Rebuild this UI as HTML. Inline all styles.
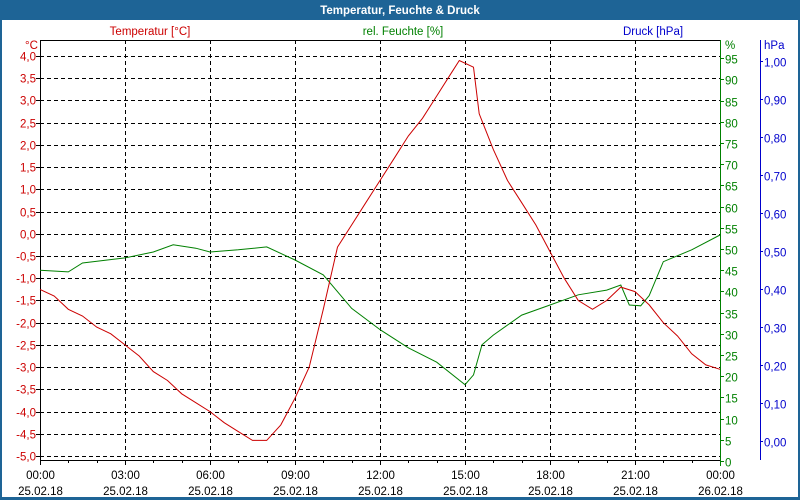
<!DOCTYPE html>
<html><head><meta charset="utf-8"><style>
html,body{margin:0;padding:0;background:#fff}
#wrap{position:relative;width:800px;height:500px;overflow:hidden;font-family:"Liberation Sans",sans-serif}
svg text{font-family:"Liberation Sans",sans-serif;font-size:11.5px}
</style></head><body>
<div id="wrap">
<svg id="chart" width="800" height="500">
<rect x="0" y="0" width="800" height="500" fill="#1e6496"/>
<rect x="2" y="20" width="796" height="477" fill="#fff"/>
<text x="400" y="14" fill="#fff" font-weight="bold" text-anchor="middle">Temperatur, Feuchte &amp; Druck</text>
<text x="150" y="35" fill="#cc0000" text-anchor="middle">Temperatur [°C]</text>
<text x="403" y="35" fill="#008000" text-anchor="middle">rel. Feuchte [%]</text>
<text x="653" y="35" fill="#0000cc" text-anchor="middle">Druck [hPa]</text>
<text x="25" y="49" fill="#cc0000">°C</text>
<text x="725" y="49" fill="#008000">%</text>
<text x="764" y="49" fill="#0000cc">hPa</text>
<g id="grid"></g><g id="axes"></g><g id="series"></g>
</svg></div>
<script>
const hours=[0,0.5,1,1.5,2,2.5,3,3.5,4,4.5,5,5.5,6,6.5,7,7.5,8,8.5,9,9.5,10,10.5,11,11.5,12,12.5,13,13.5,14,14.5,14.8,15.3,15.5,16,16.5,17,17.5,18,18.5,19,19.5,20,20.5,21,21.5,22,22.5,23,23.5,24];
const temps=[-1.25,-1.4,-1.7,-1.85,-2.1,-2.25,-2.5,-2.75,-3.1,-3.3,-3.6,-3.8,-4.0,-4.25,-4.45,-4.65,-4.65,-4.3,-3.7,-3.0,-1.7,-0.3,0.2,0.7,1.2,1.7,2.2,2.6,3.1,3.6,3.9,3.75,2.7,1.9,1.2,0.7,0.2,-0.4,-1.0,-1.5,-1.7,-1.5,-1.2,-1.3,-1.6,-2.0,-2.3,-2.7,-2.95,-3.05];
const humHours=[0,1,1.5,3,4,4.7,5.5,6,7,8,9,10,11,12,13,14,15,15.3,15.6,16,17,18,19,20,20.5,20.8,21.2,21.5,22,23,24];
const humidity=[45,44.6,46.7,47.9,49.3,51,50.2,49.3,49.8,50.5,47.4,43.9,36,31,26.7,23.3,18,20.3,27.4,29.7,34.4,36.8,39.2,40.3,41.5,36.8,36.6,39,47,49.8,53.3];
const tempTicks=[4,3.5,3,2.5,2,1.5,1,0.5,0,-0.5,-1,-1.5,-2,-2.5,-3,-3.5,-4,-4.5,-5];
const humTicks=[0,5,10,15,20,25,30,35,40,45,50,55,60,65,70,75,80,85,90,95];
const presTicks=[0,0.1,0.2,0.3,0.4,0.5,0.6,0.7,0.8,0.9,1.0];
const timeTicks=["00:00","03:00","06:00","09:00","12:00","15:00","18:00","21:00","00:00"];
const dateTicks=["25.02.18","25.02.18","25.02.18","25.02.18","25.02.18","25.02.18","25.02.18","25.02.18","26.02.18"];
const NS='http://www.w3.org/2000/svg';
const X=h=>40+h*680/24, YT=t=>233.8-t*44.44, YH=v=>461-v*4.24, YP=p=>441-p*380;
function mk(tag,at,parent,txt){const e=document.createElementNS(NS,tag);for(const k in at)e.setAttribute(k,at[k]);if(txt!==undefined)e.textContent=txt;parent.appendChild(e);return e;}
const grid=document.getElementById('grid'),axes=document.getElementById('axes'),ser=document.getElementById('series');
tempTicks.forEach(t=>{const y=Math.round(YT(t))+0.5;
 const g=mk('line',{x1:40,x2:720,y1:y,y2:y,stroke:'#000','stroke-dasharray':'4,3'},grid);
 
 
 const l=mk('text',{x:36,y:y+4,fill:'#cc0000','text-anchor':'end'},axes,t.toFixed(1).replace('.',','));
 
 
 mk('line',{x1:36,x2:40,y1:y,y2:y,stroke:'#000'},axes);});
timeTicks.forEach((s,i)=>{const x=Math.round(X(i*3))+0.5;
 if(i>0&&i<8){const g=mk('line',{x1:x,x2:x,y1:40,y2:460,stroke:'#000','stroke-dasharray':'4,3'},grid);
 
 }
 const a=mk('text',{x:x,y:479,fill:'#000','text-anchor':'middle'},axes,s);
 
 
 const b=mk('text',{x:x,y:495,fill:'#000','text-anchor':'middle'},axes,dateTicks[i]);
 
 });
for(let h=0;h<=24;h++){const x=Math.round(X(h))+0.5;mk('line',{x1:x,x2:x,y1:460,y2:h%3?463:465,stroke:'#000'},axes);}
humTicks.forEach(v=>{const y=Math.round(YH(v))+0.5;
 mk('line',{x1:720,x2:724,y1:y,y2:y,stroke:'#008000'},axes);
 const l=mk('text',{x:725,y:y+5,fill:'#008000'},axes,String(v));
 
 });
presTicks.forEach(p=>{const y=Math.round(YP(p))+0.5;
 mk('line',{x1:760,x2:763,y1:y,y2:y,stroke:'#0000cc'},axes);
 const l=mk('text',{x:764,y:y+5,fill:'#0000cc'},axes,p.toFixed(2).replace('.',','));
 
 });
mk('polyline',{points:'40.5,460.5 40.5,40.5 720,40.5',fill:'none',stroke:'#000'},axes);
mk('line',{x1:40,x2:720,y1:460.5,y2:460.5,stroke:'#000'},axes);
mk('line',{x1:720.5,x2:720.5,y1:40,y2:466,stroke:'#008000'},axes);
mk('line',{x1:760.5,x2:760.5,y1:40,y2:460,stroke:'#0000cc'},axes);
const hp=mk('polyline',{points:humHours.map((h,i)=>X(h).toFixed(1)+','+YH(humidity[i]).toFixed(1)).join(' '),fill:'none',stroke:'#008000','stroke-width':1},ser);


const tp=mk('polyline',{points:hours.map((h,i)=>X(h).toFixed(1)+','+YT(temps[i]).toFixed(1)).join(' '),fill:'none',stroke:'#cc0000','stroke-width':1},ser);


</script>
</body></html>
